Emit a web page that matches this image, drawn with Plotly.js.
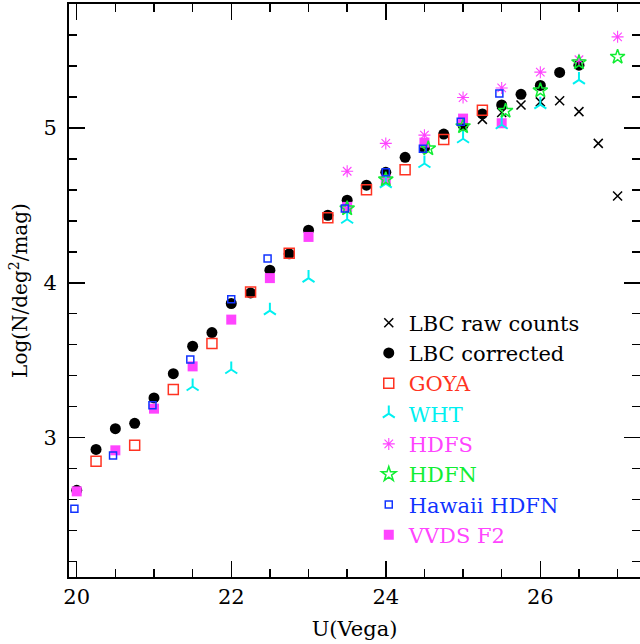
<!DOCTYPE html>
<html>
<head>
<meta charset="utf-8">
<script src="https://cdn.plot.ly/plotly-3.0.1.min.js"></script>
<style>html,body{margin:0;padding:0;background:#fff;overflow:hidden;}#chart{width:640px;height:644px;}</style>
</head>
<body>
<div id="chart"></div>
<script>
// LBC raw counts
var rawX = [25.25, 25.5, 25.75, 26.0, 26.25, 26.5, 26.75, 27.0];
var rawY = [5.055, 5.10, 5.148, 5.168, 5.175, 5.105, 4.90, 4.56];
// LBC corrected
var corrX = [20.0, 20.25, 20.5, 20.75, 21.0, 21.25, 21.5, 21.75, 22.0, 22.25, 22.5, 22.75, 23.0, 23.25, 23.5, 23.75, 24.0, 24.25, 24.5, 24.75, 25.0, 25.25, 25.5, 25.75, 26.0, 26.25, 26.5];
var corrY = [2.66, 2.924, 3.058, 3.092, 3.256, 3.413, 3.59, 3.678, 3.866, 3.934, 4.081, 4.187, 4.339, 4.436, 4.533, 4.63, 4.713, 4.81, 4.87, 4.96, 5.017, 5.09, 5.148, 5.217, 5.274, 5.358, 5.405];
// GOYA
var goyaX = [20.25, 20.75, 21.25, 21.75, 22.25, 22.75, 23.25, 23.75, 24.25, 24.75, 25.25];
var goyaY = [2.847, 2.95, 3.31, 3.607, 3.94, 4.19, 4.42, 4.60, 4.73, 4.925, 5.114];
// WHT
var whtX = [21.5, 22.0, 22.5, 23.0, 23.5, 24.0, 24.5, 25.0, 25.5, 26.0, 26.5];
var whtY = [3.33, 3.44, 3.82, 4.03, 4.41, 4.64, 4.77, 4.93, 5.02, 5.15, 5.31];
// HDFS
var hdfsX = [23.5, 24.0, 24.5, 25.0, 25.5, 26.0, 26.5, 27.0];
var hdfsY = [4.72, 4.90, 4.953, 5.196, 5.258, 5.36, 5.44, 5.588];
// HDFN
var hdfnX = [23.5, 24.0, 24.55, 25.0, 25.55, 26.0, 26.5, 27.0];
var hdfnY = [4.48, 4.667, 4.867, 5.01, 5.11, 5.242, 5.423, 5.459];
// Hawaii HDFN
var hawX = [19.97, 20.47, 20.98, 21.47, 22.0, 22.47, 23.47, 24.0, 24.48, 24.97, 25.47];
var hawY = [2.54, 2.884, 3.209, 3.504, 3.893, 4.156, 4.48, 4.714, 4.865, 5.04, 5.222];
// VVDS F2
var vvdsX = [20.0, 20.5, 21.0, 21.5, 22.0, 22.5, 23.0, 23.5, 24.0, 24.5, 25.0, 25.5];
var vvdsY = [2.653, 2.918, 3.187, 3.46, 3.762, 4.03, 4.296, 4.49, 4.665, 4.905, 5.06, 5.03];

var names = ['LBC raw counts', 'LBC corrected', 'GOYA', 'WHT', 'HDFS', 'HDFN', 'Hawaii HDFN', 'VVDS F2'];
var colors = ['#000000', '#000000', '#ff3322', '#00f0f0', '#ff44ff', '#11ee33', '#1133ff', '#ff44ff'];

function lbl(i) { return '<span style="color:' + colors[i] + '">' + names[i] + '</span>'; }

var traces = [
  {x: corrX, y: corrY, name: lbl(1), legendrank: 2, type: 'scatter', mode: 'markers',
   marker: {symbol: 'circle', size: 11, color: colors[1]}},
  {x: vvdsX, y: vvdsY, name: lbl(7), legendrank: 8, type: 'scatter', mode: 'markers',
   marker: {symbol: 'square', size: 10, color: colors[7]}},
  {x: rawX, y: rawY, name: lbl(0), legendrank: 1, type: 'scatter', mode: 'markers',
   marker: {symbol: 'x-thin-open', size: 9, color: colors[0], line: {color: colors[0], width: 1.5}}},
  {x: goyaX, y: goyaY, name: lbl(2), legendrank: 3, type: 'scatter', mode: 'markers',
   marker: {symbol: 'square-open', size: 10, color: colors[2], line: {color: colors[2], width: 1.5}}},
  {x: whtX, y: whtY, name: lbl(3), legendrank: 4, type: 'scatter', mode: 'markers',
   marker: {symbol: 'y-up-open', size: 10, color: colors[3], line: {color: colors[3], width: 2}}},
  {x: hdfsX, y: hdfsY, name: lbl(4), legendrank: 5, type: 'scatter', mode: 'markers',
   marker: {symbol: 'asterisk-open', size: 10, color: colors[4], line: {color: colors[4], width: 1.1}}},
  {x: hdfnX, y: hdfnY, name: lbl(5), legendrank: 6, type: 'scatter', mode: 'markers',
   marker: {symbol: 'star-open', size: 11, color: colors[5], line: {color: colors[5], width: 1.5}}},
  {x: hawX, y: hawY, name: lbl(6), legendrank: 7, type: 'scatter', mode: 'markers',
   marker: {symbol: 'square-open', size: 7, color: colors[6], line: {color: colors[6], width: 1.5}}}
];

var fontFam = '"DejaVu Serif", "Liberation Serif", serif';
var axisCommon = {
  showline: true, linecolor: '#000', linewidth: 2, mirror: 'ticks',
  ticks: 'inside', ticklen: 16, tickwidth: 1.5, tickcolor: '#000',
  showgrid: false, zeroline: false,
  tickfont: {family: fontFam, size: 21, color: '#000'}
};

var layout = {
  width: 640, height: 644,
  margin: {l: 69, r: 0, t: 4, b: 67},
  paper_bgcolor: '#fff', plot_bgcolor: '#fff',
  showlegend: true,
  xaxis: Object.assign({}, axisCommon, {
    range: [19.9, 27.29], tick0: 20, dtick: 2, ticklabelstandoff: 0,
    minor: {dtick: 0.5, ticks: 'inside', ticklen: 8, tickwidth: 1.5, tickcolor: '#000', showgrid: false},
    title: {text: 'U(Vega)', standoff: 13, font: {family: fontFam, size: 21, color: '#000'}}
  }),
  yaxis: Object.assign({}, axisCommon, {
    range: [2.1, 5.8], tick0: 0, dtick: 1, ticklabelstandoff: 6,
    minor: {dtick: 0.2, ticks: 'inside', ticklen: 8, tickwidth: 1.5, tickcolor: '#000', showgrid: false},
    title: {text: 'Log(N/deg<sup>2</sup>/mag)', standoff: 10, font: {family: fontFam, size: 20, color: '#000'}}
  }),
  legend: {
    x: 0.525, y: 0.479, xanchor: 'left', yanchor: 'top',
    bgcolor: 'rgba(0,0,0,0)', borderwidth: 0,
    font: {family: fontFam, size: 21, color: '#000'},
    traceorder: 'normal'
  }
};

Plotly.newPlot('chart', traces, layout, {displayModeBar: false, staticPlot: true});
</script>
</body>
</html>
